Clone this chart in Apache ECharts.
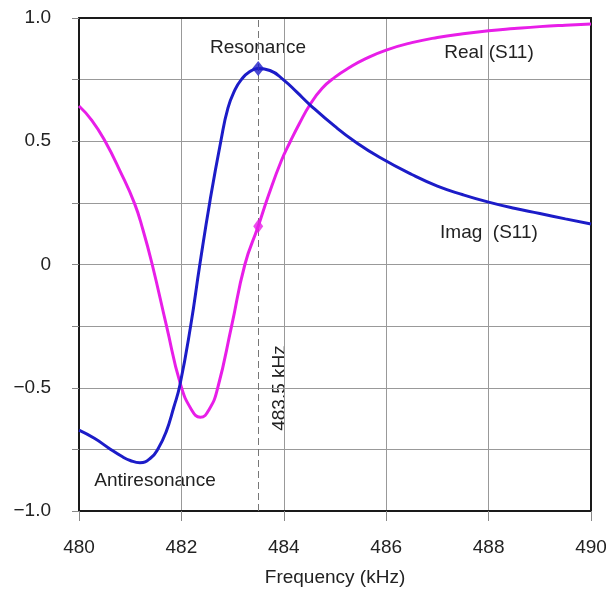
<!DOCTYPE html>
<html>
<head>
<meta charset="utf-8">
<script src="https://cdn.jsdelivr.net/npm/echarts@6/dist/echarts.min.js"></script>
<style>
  html, body { margin: 0; padding: 0; background: #fff; }
  #chart { width: 606px; height: 589px; }
</style>
</head>
<body>
<div id="chart"></div>
<script>
// Imag (S11), blue curve
const imagFreq = [480.0, 480.3, 480.57, 480.85, 481.0, 481.19, 481.4, 481.55, 481.7, 481.85,
  481.97, 482.18, 482.36, 482.56, 482.77, 482.91, 483.05, 483.17, 483.33, 483.5, 483.73,
  484.0, 484.25, 484.51, 485.0, 485.4, 485.87, 486.5, 487.0, 487.5, 488.0,
  488.5, 489.0, 489.5, 490.0]
const imagVal = [-0.672, -0.705, -0.743, -0.78, -0.795, -0.804, -0.785, -0.745, -0.68, -0.58,
  -0.49, -0.25, 0.0, 0.26, 0.5, 0.635, 0.71, 0.75, 0.782, 0.795, 0.787,
  0.748, 0.70, 0.648, 0.56, 0.497, 0.435, 0.365, 0.318, 0.283, 0.253,
  0.228, 0.207, 0.185, 0.164]

// Real (S11), magenta curve
const realFreq = [480.0, 480.25, 480.51, 480.8, 481.08, 481.25, 481.43, 481.71, 481.98, 482.2,
  482.37, 482.55, 482.71, 482.98, 483.24, 483.5, 483.7, 483.95, 484.13, 484.3,
  484.51, 484.75, 485.0, 485.29, 485.6, 486.0, 486.5, 487.0, 487.5, 488.0,
  488.5, 489.0, 489.5, 490.0]
const realVal = [0.643, 0.585, 0.50, 0.38, 0.25, 0.14, 0.0, -0.25, -0.484, -0.59,
  -0.62, -0.585, -0.50, -0.25, 0.0, 0.155, 0.28, 0.42, 0.50, 0.57,
  0.648, 0.715, 0.76, 0.80, 0.835, 0.87, 0.90, 0.921, 0.936, 0.948,
  0.957, 0.965, 0.971, 0.976]

// resonance marker
const resonanceFreq = 483.5
const resonanceImag = 0.795
const resonanceReal = 0.155

const yLabels = { '-1': '\u22121.0', '-0.5': '\u22120.5', '0': '0', '0.5': '0.5', '1': '1.0' }

const BLUE = '#1c1cc8'
const MAGENTA = '#e81ee8'
const FONT = 'Liberation Sans, Arial, sans-serif'
const FS = 19

const zip = (xs, ys) => xs.map((x, i) => [x, ys[i]])

const frameLine = { show: true, onZero: false, lineStyle: { color: '#1a1a1a', width: 2 } }

const chart = echarts.init(document.getElementById('chart'))

const option = {
  animation: false,
  textStyle: { fontFamily: FONT },
  grid: { left: 79, right: 15, top: 18, bottom: 78, containLabel: false, outerBoundsMode: 'none' },
  xAxis: [
    {
      type: 'value',
      min: 480, max: 490, interval: 2,
      name: 'Frequency (kHz)',
      nameLocation: 'middle',
      nameGap: 57,
      nameTextStyle: { fontSize: FS, color: '#222', fontFamily: FONT },
      axisLine: frameLine,
      axisTick: { length: 10, lineStyle: { color: '#888' } },
      axisLabel: { fontSize: FS, color: '#222', margin: 27, fontFamily: FONT, hideOverlap: false },
      splitLine: { lineStyle: { color: '#999', width: 1 } }
    },
    {
      // top frame
      type: 'value', position: 'top', min: 480, max: 490,
      axisLine: frameLine, axisTick: { show: false }, axisLabel: { show: false }, splitLine: { show: false }
    }
  ],
  yAxis: [
    {
      type: 'value',
      min: -1, max: 1, interval: 0.25,
      axisLine: frameLine,
      axisTick: { show: true, length: 7, lineStyle: { color: '#888' } },
      axisLabel: {
        fontSize: FS, color: '#222', margin: 28, fontFamily: FONT,
        formatter: v => yLabels[String(v)] || ''
      },
      splitLine: { lineStyle: { color: '#999', width: 1 } }
    },
    {
      // right frame
      type: 'value', position: 'right', min: -1, max: 1,
      axisLine: frameLine, axisTick: { show: false }, axisLabel: { show: false }, splitLine: { show: false }
    }
  ],
  series: [
    {
      name: 'Real (S11)',
      type: 'line',
      data: zip(realFreq, realVal),
      smooth: 0.5,
      showSymbol: false,
      lineStyle: { color: MAGENTA, width: 3 },
      z: 3,
      markLine: {
        silent: true,
        symbol: 'none',
        label: { show: false },
        lineStyle: { color: '#777', width: 1, type: [7, 4] },
        data: [{ xAxis: resonanceFreq }]
      }
    },
    {
      name: 'Imag (S11)',
      type: 'line',
      data: zip(imagFreq, imagVal),
      smooth: 0.5,
      showSymbol: false,
      lineStyle: { color: BLUE, width: 3 },
      z: 4
    },
    {
      type: 'scatter',
      symbol: 'diamond',
      symbolSize: [12, 15],
      data: [[resonanceFreq, resonanceImag]],
      itemStyle: { color: BLUE },
      z: 5
    },
    {
      type: 'scatter',
      symbol: 'diamond',
      symbolSize: [10, 14],
      data: [[resonanceFreq, resonanceReal]],
      itemStyle: { color: MAGENTA },
      z: 5
    }
  ],
  graphic: [
    { type: 'text', x: 258, y: 48, style: { text: 'Resonance', fill: '#222', font: FS + 'px ' + FONT, textAlign: 'center', textVerticalAlign: 'middle' } },
    { type: 'text', x: 489, y: 53, style: { text: 'Real (S11)', fill: '#222', font: FS + 'px ' + FONT, textAlign: 'center', textVerticalAlign: 'middle' } },
    { type: 'text', x: 489, y: 233, style: { text: 'Imag  (S11)', fill: '#222', font: FS + 'px ' + FONT, textAlign: 'center', textVerticalAlign: 'middle' } },
    { type: 'text', x: 155, y: 481, style: { text: 'Antiresonance', fill: '#222', font: FS + 'px ' + FONT, textAlign: 'center', textVerticalAlign: 'middle' } },
    { type: 'text', x: 280, y: 388, rotation: Math.PI / 2, style: { text: '483.5 kHz', fill: '#222', font: FS + 'px ' + FONT, textAlign: 'center', textVerticalAlign: 'middle' } }
  ]
}

chart.setOption(option)
</script>
</body>
</html>
